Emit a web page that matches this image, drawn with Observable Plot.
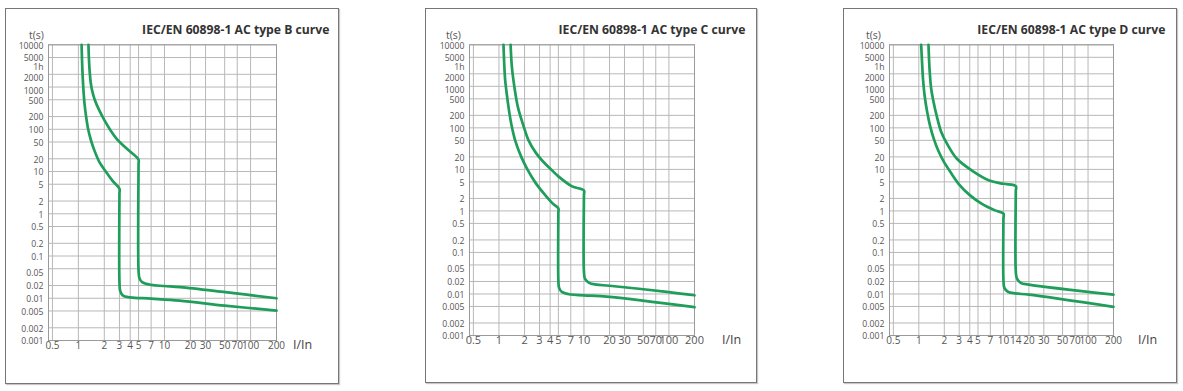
<!DOCTYPE html>
<html>
<head>
<meta charset="utf-8">
<script src="https://cdn.jsdelivr.net/npm/d3@7"></script>
<script src="https://cdn.jsdelivr.net/npm/@observablehq/plot@0.6"></script>
<style>
  html, body { margin: 0; padding: 0; background: #fff; }
  #wrap { position: relative; width: 1183px; height: 391px; overflow: hidden; font-family: "Open Sans", sans-serif; }
  .box { position: absolute; box-sizing: border-box; border: 1.6px solid #767676; box-shadow: 1px 1px 1px #c8c8c8; }
  .plot { position: absolute; }
</style>
</head>
<body>
<div id="wrap"></div>
<script>
// ---------- data ----------
const panelTitles = [
  "IEC/EN 60898-1 AC type B curve",
  "IEC/EN 60898-1 AC type C curve",
  "IEC/EN 60898-1 AC type D curve"
];
const xTicksB = [0.5, 1, 2, 3, 4, 5, 7, 10, 20, 30, 50, 70, 100, 200];
const xTicksC = [0.5, 1, 2, 3, 4, 5, 7, 10, 20, 30, 50, 70, 100, 200];
const xTicksD = [0.5, 1, 2, 3, 4, 5, 7, 10, 14, 20, 30, 50, 70, 100, 200];
const yGridTicks = [10000, 5000, 2000, 1000, 500, 200, 100, 50, 20, 10, 5, 2, 1, 0.5, 0.2, 0.1, 0.05, 0.02, 0.01, 0.005, 0.002, 0.001];
const yLabelValues = [10000, 5000, 3600, 2000, 1000, 500, 200, 100, 50, 20, 10, 5, 2, 1, 0.5, 0.2, 0.1, 0.05, 0.02, 0.01, 0.005, 0.002, 0.001];
const yLabelTexts = ["10000", "5000", "1h", "2000", "1000", "500", "200", "100", "50", "20", "10", "5", "2", "1", "0.5", "0.2", "0.1", "0.05", "0.02", "0.01", "0.005", "0.002", "0.001"];
const xAxisName = "I/In";
const yAxisName = "t(s)";

// curves: [I/In, t(s)]
const bLower = [[1.09,10000],[1.11,3000],[1.14,1000],[1.18,400],[1.23,200],[1.30,100],[1.40,55],[1.55,30],[1.75,17],[2.08,10],[2.5,6],[3,3.9],[3,3.0],[3,0.025],[3.06,0.015],[3.3,0.0115],[4,0.0105],[7,0.0098],[15,0.0088],[50,0.0067],[200,0.0051]];
const bUpper = [[1.31,10000],[1.325,5000],[1.35,2500],[1.39,1300],[1.45,800],[1.56,480],[1.75,280],[2.02,161],[2.36,95],[2.85,56],[3.9,31],[5,19],[5,15],[5,0.045],[5.12,0.03],[5.5,0.024],[7,0.0207],[10,0.0195],[15.3,0.0183],[51,0.0139],[200,0.0100]];
const cLower = [[1.13,10000],[1.15,4000],[1.18,1500],[1.23,700],[1.30,300],[1.40,120],[1.55,50],[1.83,20],[2.16,10],[2.72,4.6],[3.5,2.4],[4.3,1.5],[5,1.15],[5,0.9],[5,0.022],[5.1,0.014],[5.5,0.0112],[7,0.0097],[10,0.0093],[20,0.0085],[200,0.0048]];
const cUpper = [[1.37,10000],[1.42,2900],[1.53,873],[1.67,316],[1.91,125],[2.23,50],[2.72,25],[3.3,15.5],[4,10.5],[5,6.8],[7.26,3.9],[10,3.1],[10,2.4],[10,0.035],[10.3,0.023],[11.5,0.0185],[14,0.0168],[20,0.0158],[100,0.0111],[200,0.0093]];
const dLower = [[1.065,10000],[1.09,4000],[1.12,1500],[1.17,600],[1.25,250],[1.36,110],[1.5,55],[1.7,28],[1.95,16],[2.33,9],[3,4.3],[4,2.4],[5.5,1.5],[7.96,1.03],[10,0.86],[10,0.65],[10,0.022],[10.25,0.014],[11.3,0.0113],[14,0.0103],[20,0.0096],[200,0.0049]];
const dUpper = [[1.30,10000],[1.32,4500],[1.34,2500],[1.40,873],[1.48,457],[1.64,181],[1.83,82],[2.16,41],[2.82,18],[4.33,9.1],[6.8,5.4],[10,4.5],[14,3.95],[14,3.0],[14,0.035],[14.4,0.024],[16,0.0185],[20,0.0168],[200,0.0096]];

// ---------- layout ----------
const GREEN = "#1f9d5a";
const GRID = "#b8b8b8";
const panels = [
  {title: panelTitles[0], xTicks: xTicksB, lower: bLower, upper: bUpper,
   left: 5, top: 8, width: 334, height: 376, mL: 43, mR: 63, mT: 36.3, mB: 44,
   xFont: 10, yFont: 8.7, titleDx: 53, nameDx: 26, tsDx: -12},
  {title: panelTitles[1], xTicks: xTicksC, lower: cLower, upper: cUpper,
   left: 425, top: 8, width: 332, height: 375, mL: 44, mR: 63, mT: 36.3, mB: 48,
   xFont: 11, yFont: 8.7, titleDx: 51, nameDx: 37, tsDx: -16},
  {title: panelTitles[2], xTicks: xTicksD, lower: dLower, upper: dUpper,
   left: 843, top: 8, width: 334, height: 375, mL: 46, mR: 64, mT: 36.3, mB: 48,
   xFont: 10, yFont: 8.7, titleDx: 52, nameDx: 34, tsDx: -16}
];
const nudged = new Set([3600, 2000, 1000, 0.05]);

const wrap = document.getElementById("wrap");
for (const p of panels) {
  const box = document.createElement("div");
  box.className = "box";
  Object.assign(box.style, {left: p.left + "px", top: p.top + "px", width: p.width + "px", height: p.height + "px"});
  wrap.appendChild(box);

  const labelIdx = yLabelValues.map((v, i) => i);
  const chart = Plot.plot({
    width: p.width,
    height: p.height,
    marginLeft: p.mL,
    marginRight: p.mR,
    marginTop: p.mT,
    marginBottom: p.mB,
    style: {fontFamily: "'Open Sans', sans-serif", background: "transparent", overflow: "visible"},
    x: {type: "log", domain: [0.45, 200], axis: null},
    y: {type: "log", domain: [0.001, 10000], axis: null},
    marks: [
      Plot.ruleY(yGridTicks, {y: d => d, stroke: GRID, strokeWidth: 1}),
      Plot.ruleX(p.xTicks, {x: d => d, stroke: GRID, strokeWidth: 1}),
      Plot.frame({stroke: "#9a9a9a", strokeWidth: 1}),
      Plot.line(p.lower, {x: d => d[0], y: d => d[1], stroke: GREEN, strokeWidth: 2.7, curve: "catmull-rom"}),
      Plot.line(p.upper, {x: d => d[0], y: d => d[1], stroke: GREEN, strokeWidth: 2.7, curve: "catmull-rom"}),
      Plot.text(labelIdx.filter(i => !nudged.has(yLabelValues[i])), {
        y: i => yLabelValues[i], text: i => yLabelTexts[i], frameAnchor: "left",
        textAnchor: "end", dx: -5, dy: 1, fontSize: p.yFont, fill: "#555"}),
      Plot.text(labelIdx.filter(i => nudged.has(yLabelValues[i])), {
        y: i => yLabelValues[i], text: i => yLabelTexts[i], frameAnchor: "left",
        textAnchor: "end", dx: -5, dy: 4, fontSize: p.yFont, fill: "#555"}),
      Plot.text(p.xTicks, {x: d => d, text: d => String(d), frameAnchor: "bottom",
        dy: 8.5, fontSize: p.xFont, fill: "#555"}),
      Plot.text([xAxisName], {frameAnchor: "bottom-right", dx: p.nameDx, dy: 8.5,
        textAnchor: "middle", fontSize: 12.5, fill: "#444"}),
      Plot.text([yAxisName], {frameAnchor: "top-left", dx: p.tsDx, dy: -13.5,
        textAnchor: "middle", fontSize: 10.5, fill: "#555"}),
      Plot.text([p.title], {frameAnchor: "top-right", dx: p.titleDx, dy: -19.5,
        textAnchor: "end", fontSize: 12.2, fontWeight: "bold", fill: "#333"})
    ]
  });
  chart.classList.add("plot");
  Object.assign(chart.style, {left: p.left + "px", top: p.top + "px"});
  wrap.appendChild(chart);
}
</script>
</body>
</html>
